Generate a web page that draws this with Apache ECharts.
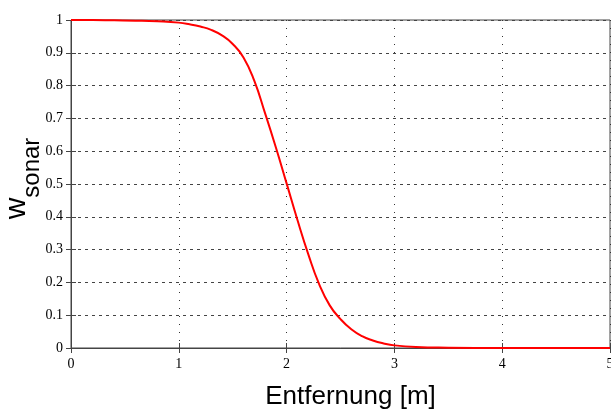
<!DOCTYPE html>
<html>
<head>
<meta charset="utf-8">
<script src="https://cdn.jsdelivr.net/npm/echarts@6/dist/echarts.min.js"></script>
<style>html,body{margin:0;padding:0;background:#fff;}#c{width:611px;height:409px;}</style>
</head>
<body>
<div id="c"></div>
<script>
const distance = [0, 0.2, 0.4, 0.6, 0.8, 1.0, 1.1, 1.2, 1.3, 1.4, 1.5, 1.6, 1.7, 1.8, 1.9, 2.0, 2.1, 2.2, 2.3, 2.4, 2.5, 2.6, 2.7, 2.8, 2.9, 3.0, 3.2, 3.5, 4.0, 4.5, 5.0];
const wSonar = [1.0, 1.0, 0.999, 0.998, 0.996, 0.992, 0.987, 0.980, 0.970, 0.953, 0.927, 0.886, 0.815, 0.716, 0.612, 0.502, 0.391, 0.287, 0.196, 0.130, 0.088, 0.057, 0.036, 0.023, 0.014, 0.008, 0.003, 0.001, 0, 0, 0];
const xTicks = [0, 1, 2, 3, 4, 5];
const yTicks = [0, 0.1, 0.2, 0.3, 0.4, 0.5, 0.6, 0.7, 0.8, 0.9, 1];

const chart = echarts.init(document.getElementById('c'), null, {renderer: 'canvas'});
const tickFont = {fontFamily: 'Liberation Serif', fontSize: 14, color: '#000'};
const axisLineStyle = {color: '#444', width: 1};
chart.setOption({
  animation: false,
  backgroundColor: '#fff',
  grid: {left: 71, right: 1, top: 20, bottom: 61, containLabel: false, outerBoundsMode: 'none',
    show: true, borderColor: '#444', borderWidth: 1},
  xAxis: [{
    type: 'value', min: 0, max: 5, interval: 1, position: 'bottom',
    axisLine: {show: true, lineStyle: axisLineStyle},
    axisTick: {show: true, inside: true, length: 5, lineStyle: {color: '#444'}},
    axisLabel: Object.assign({margin: 9, showMaxLabel: true, hideOverlap: false,
      formatter: v => xTicks.includes(v) ? String(v) : ''}, tickFont),
    splitLine: {show: true, lineStyle: {color: '#333', type: [1, 7], width: 1}},
    name: 'Entfernung [m]', nameLocation: 'middle', nameGap: 36, nameMoveOverlap: false,
    nameTextStyle: {fontFamily: 'Liberation Sans', fontSize: 26, color: '#000', padding: [0, 0, 0, 20]}
  }, {
    type: 'value', min: 0, max: 5, interval: 1, position: 'top',
    axisLine: {show: true, lineStyle: axisLineStyle},
    axisTick: {show: true, inside: true, length: 5, lineStyle: {color: '#444'}},
    axisLabel: {show: false}, splitLine: {show: false}
  }],
  yAxis: [{
    type: 'value', min: 0, max: 1, interval: 0.1, position: 'left',
    axisLine: {show: true, lineStyle: axisLineStyle},
    axisTick: {show: true, inside: true, length: 5, lineStyle: {color: '#444'}},
    axisLabel: Object.assign({margin: 8, formatter: v => {
      const r = Math.round(v * 10) / 10; return yTicks.includes(r) ? String(r) : ''; }}, tickFont),
    splitLine: {show: true, lineStyle: {color: '#444', type: [3, 4], width: 1}},
    name: '{w|w}{s|sonar}', nameLocation: 'middle', nameGap: 27, nameRotate: 90, nameMoveOverlap: false,
    nameTextStyle: {
      fontFamily: 'Liberation Sans', color: '#000', padding: [0, 0, 0, 11],
      rich: {
        w: {fontFamily: 'Liberation Sans', fontSize: 30, color: '#000', verticalAlign: 'top', lineHeight: 30},
        s: {fontFamily: 'Liberation Sans', fontSize: 24, color: '#000', verticalAlign: 'bottom', lineHeight: 42}
      }
    }
  }, {
    type: 'value', min: 0, max: 1, interval: 0.1, position: 'right',
    axisLine: {show: true, lineStyle: axisLineStyle},
    axisTick: {show: true, inside: true, length: 5, lineStyle: {color: '#444'}},
    axisLabel: {show: false}, splitLine: {show: false}
  }],
  series: [{
    type: 'line', xAxisIndex: 0, yAxisIndex: 0,
    data: distance.map((d, i) => [d, wSonar[i]]),
    smooth: 0.5, showSymbol: false, symbol: 'none',
    lineStyle: {color: '#ff0000', width: 2},
    clip: false
  }]
});
</script>
</body>
</html>
